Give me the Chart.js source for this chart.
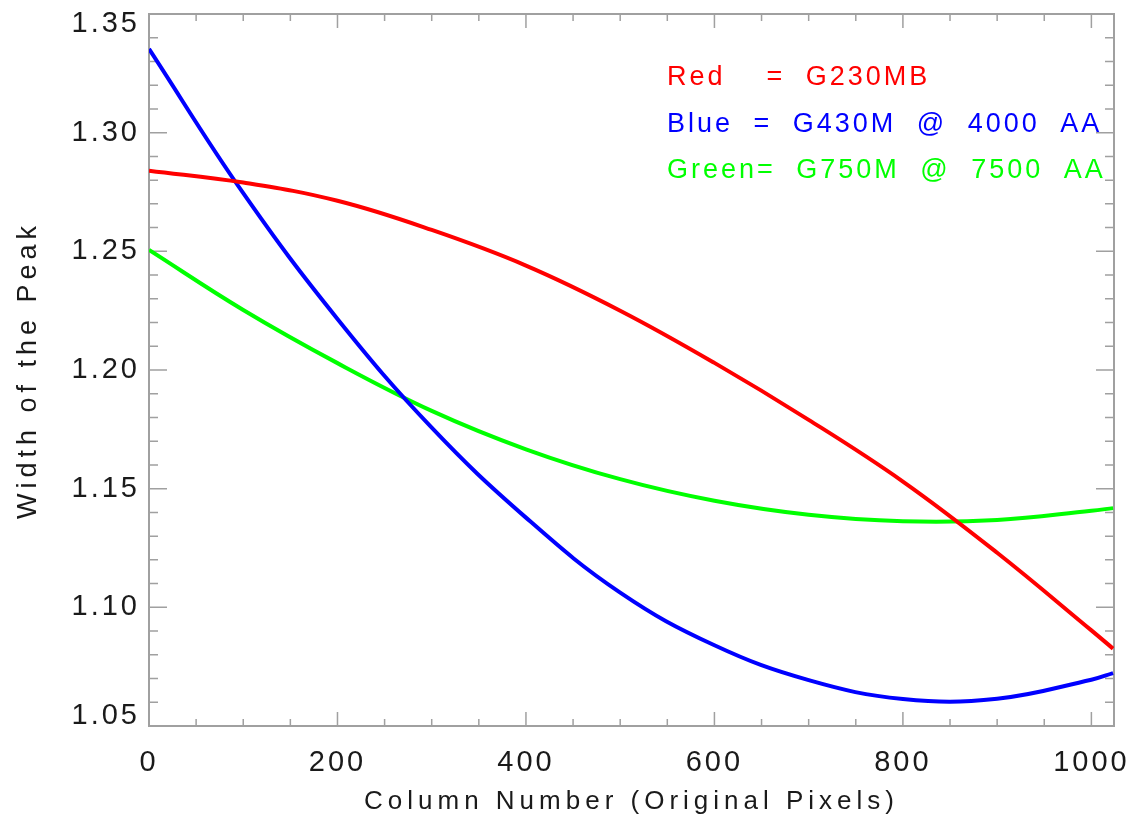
<!DOCTYPE html>
<html>
<head>
<meta charset="utf-8">
<script src="https://cdn.jsdelivr.net/npm/chart.js@4/dist/chart.umd.min.js"></script>
<style>
  html, body { margin: 0; padding: 0; background: #fff; }
</style>
</head>
<body>
<canvas id="peakChart" width="1137" height="823"></canvas>
<script>
// data
const columns    = [0, 100, 200, 300, 400, 500, 600, 700, 800, 900, 1000, 1023];
const redWidth   = [1.284, 1.279, 1.2713, 1.259, 1.244, 1.225, 1.203, 1.179, 1.153, 1.123, 1.0903, 1.0826];
const blueWidth  = [1.3353, 1.2745, 1.2215, 1.1757, 1.1378, 1.1062, 1.084, 1.0693, 1.0614, 1.0615, 1.0695, 1.0723];
const greenWidth = [1.2506, 1.2253, 1.2029, 1.1828, 1.1666, 1.154, 1.1449, 1.139, 1.1363, 1.1368, 1.1407, 1.1418];

const xTicks = [0, 200, 400, 600, 800, 1000];
const yTicks = [1.05, 1.10, 1.15, 1.20, 1.25, 1.30, 1.35];
const xMin = 0, xMax = 1024, xMinor = 50;
const yMin = 1.05, yMax = 1.35, yMinor = 0.01;

const legendLines = ["Red  = G230MB", "Blue = G430M @ 4000 AA", "Green= G750M @ 7500 AA"];
const legendColors = ["#ff0000", "#0000ff", "#00ff00"];

const FONT = "'Liberation Sans', Arial, sans-serif";
const toPoints = (ys) => columns.map((c, i) => ({ x: c, y: ys[i] }));

// IDL style text is wide: titles get more letter spacing than tick labels
let spacing = (ctx, ls, ws) => {
  ctx.letterSpacing = ls + "px";
  ctx.wordSpacing = ws + "px";
};

const wideText = {
  id: "wideText",
  beforeLayout(chart) { spacing(chart.ctx, 3, 0); },
  beforeDraw(chart) { spacing(chart.ctx, 5, 0); },          // axis titles
  afterDatasetsDraw(chart) { spacing(chart.ctx, 3, 0); }    // tick labels (z: 1)
};

// box with inward ticks on all four sides
const frame = {
  id: "frame",
  beforeDatasetsDraw(chart) {
    const { ctx, chartArea: a, scales: { x, y } } = chart;
    ctx.save();
    ctx.strokeStyle = "#a0a0a0";
    ctx.lineWidth = 1.5;
    ctx.beginPath();
    let nx = Math.round((xMax - xMin) / xMinor);
    for (let i = 0; i <= nx; i++) {
      let v = xMin + i * xMinor;
      if (v > xMax) break;
      let px = x.getPixelForValue(v);
      let len = xTicks.includes(v) ? 14 : 7;
      ctx.moveTo(px, a.bottom); ctx.lineTo(px, a.bottom - len);
      ctx.moveTo(px, a.top); ctx.lineTo(px, a.top + len);
    }
    let ny = Math.round((yMax - yMin) / yMinor);
    for (let i = 0; i <= ny; i++) {
      let py = y.getPixelForValue(yMin + i * yMinor);
      let len = (i % 5 === 0) ? 18 : 9;
      ctx.moveTo(a.left, py); ctx.lineTo(a.left + len, py);
      ctx.moveTo(a.right, py); ctx.lineTo(a.right - len, py);
    }
    ctx.stroke();
    ctx.lineWidth = 2;
    ctx.strokeRect(a.left, a.top, a.right - a.left, a.bottom - a.top);
    ctx.restore();
  }
};

const colourKey = {
  id: "colourKey",
  afterDraw(chart) {
    const { ctx } = chart;
    ctx.save();
    ctx.font = "27px " + FONT;
    spacing(ctx, 3, 10);
    ctx.textBaseline = "alphabetic";
    ctx.textAlign = "left";
    legendLines.forEach((t, i) => {
      ctx.fillStyle = legendColors[i];
      ctx.fillText(t, 667, 85 + i * 46.5);
    });
    ctx.restore();
  }
};

const line = (label, ys, colour) => ({
  label: label,
  data: toPoints(ys),
  borderColor: colour,
  backgroundColor: colour,
  borderWidth: 4,
  pointRadius: 0,
  tension: 0.4,
  fill: false
});

new Chart(document.getElementById("peakChart"), {
  type: "line",
  data: {
    datasets: [
      line("Red", redWidth, "#ff0000"),
      line("Blue", blueWidth, "#0000ff"),
      line("Green", greenWidth, "#00ff00")
    ]
  },
  options: {
    responsive: false,
    animation: false,
    layout: { padding: { top: 14, right: 23, left: 0, bottom: 0 } },
    plugins: { legend: { display: false }, tooltip: { enabled: false } },
    scales: {
      x: {
        type: "linear",
        min: xMin,
        max: xMax,
        grid: { display: false, drawTicks: false, tickLength: 0 },
        border: { display: false },
        afterBuildTicks: (s) => { s.ticks = xTicks.map((v) => ({ value: v })); },
        ticks: {
          z: 1,
          maxRotation: 0,
          autoSkip: false,
          padding: 20,
          color: "#1a1a1a",
          font: { family: FONT, size: 29 },
          callback: (v) => String(v)
        },
        title: {
          display: true,
          text: "Column Number (Original Pixels)",
          color: "#1a1a1a",
          font: { family: FONT, size: 26 },
          padding: { top: 0, bottom: 6 }
        },
        afterFit: (s) => { s.height = 97; s.paddingLeft = 0; s.paddingRight = 0; }
      },
      y: {
        type: "linear",
        min: yMin,
        max: yMax,
        grid: { display: false, drawTicks: false, tickLength: 0 },
        border: { display: false },
        afterBuildTicks: (s) => { s.ticks = yTicks.map((v) => ({ value: v })); },
        ticks: {
          z: 1,
          autoSkip: false,
          padding: 9,
          color: "#1a1a1a",
          font: { family: FONT, size: 29, lineHeight: "20px" },
          callback: (v) => {
            let t = Number(v).toFixed(2);
            if (Math.abs(v - yMax) < 1e-6) return ["", t];
            if (Math.abs(v - yMin) < 1e-6) return [t, ""];
            return t;
          }
        },
        title: {
          display: true,
          text: "Width of the Peak",
          color: "#1a1a1a",
          font: { family: FONT, size: 27 },
          padding: { top: 12, bottom: 0 }
        },
        afterFit: (s) => { s.width = 149; s.paddingTop = 0; s.paddingBottom = 0; }
      }
    }
  },
  plugins: [wideText, frame, colourKey]
});
</script>
</body>
</html>
